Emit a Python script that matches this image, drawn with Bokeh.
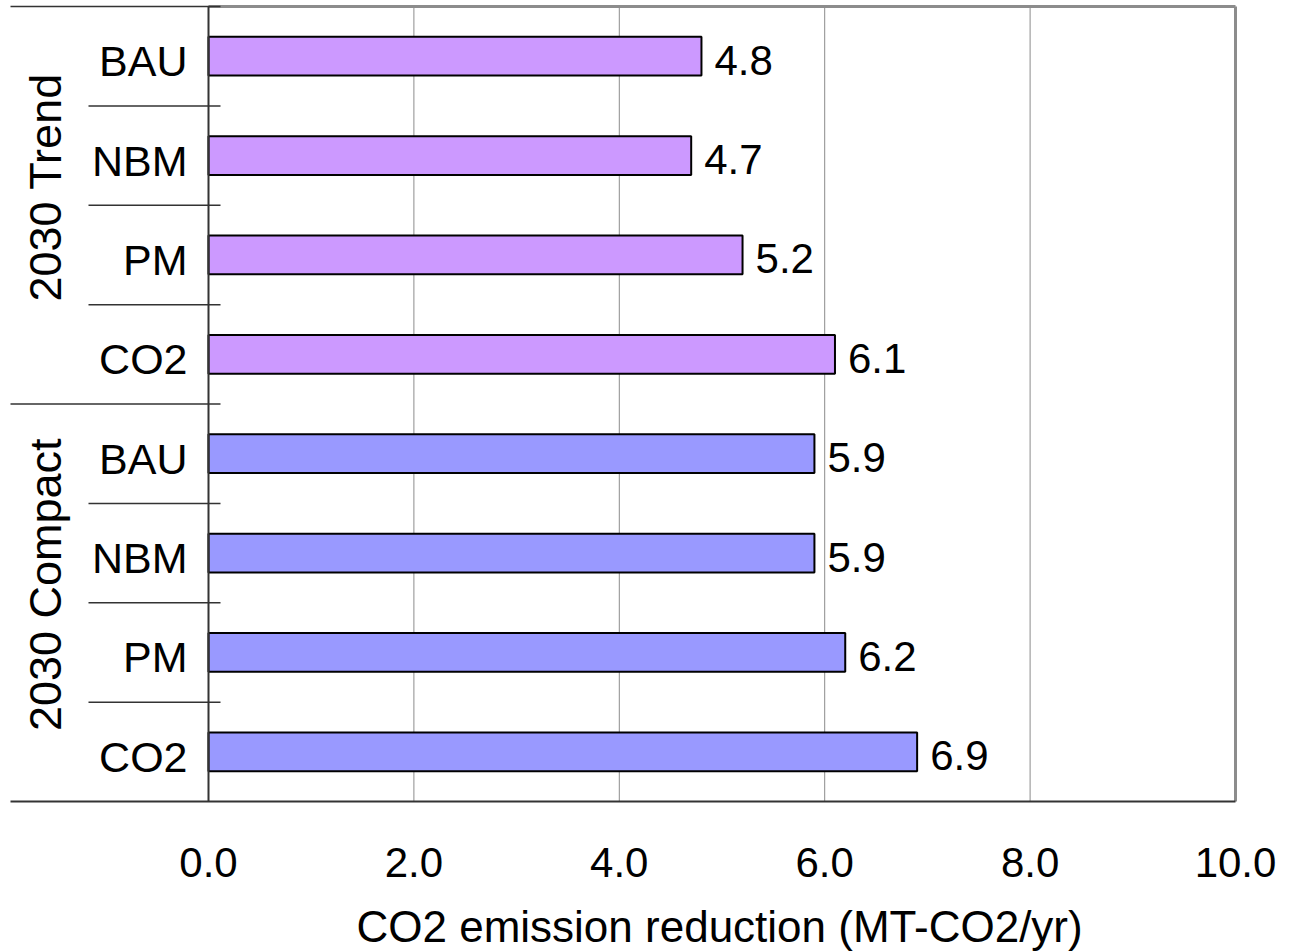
import math
from bokeh.plotting import figure
from bokeh.models import Range1d, FixedTicker, ColumnDataSource, Title
from bokeh.core.properties import value
from bokeh.embed import file_html
from bokeh.resources import INLINE

# --- data -----------------------------------------------------------------
groups = ["2030 Trend", "2030 Compact"]
scenarios = ["BAU", "NBM", "PM", "CO2"]
trend_values = [4.8, 4.7, 5.2, 6.1]
compact_values = [5.9, 5.9, 6.2, 6.9]
x_ticks = [0, 2, 4, 6, 8, 10]
x_title = "CO2 emission reduction (MT-CO2/yr)"
group_colors = ["#CC99FF", "#9999FF"]

# --- layout constants (pixels) --------------------------------------------
W = 1291
X0_PX = 208            # where x = 0 sits
UNIT_PX = 102.7        # pixels per x unit
ROW_PX = 99.375        # pixels per category row
TOP_PAD = 6
BOT_PAD = 3
FONT = "Liberation Sans"


def px(n):
    """pixel length -> x data units"""
    return n / UNIT_PX


n_rows = len(groups) * len(scenarios)
rows = list(range(n_rows))
labels = scenarios * len(groups)
vals = trend_values + compact_values
colors = [group_colors[0]] * len(trend_values) + [group_colors[1]] * len(compact_values)

src = ColumnDataSource(dict(
    y=rows, v=vals, name=labels, color=colors,
    vtxt=[f"{v:.1f}" for v in vals],
))

p = figure(
    frame_width=W, frame_height=int(ROW_PX * n_rows + TOP_PAD + BOT_PAD),
    x_range=Range1d(-px(X0_PX), px(W - X0_PX)),
    y_range=Range1d(start=n_rows - 0.5 + BOT_PAD / ROW_PX,
                    end=-0.5 - TOP_PAD / ROW_PX),
    y_axis_location=None,
    output_backend="svg", toolbar_location=None,
    min_border=0, background_fill_color="white", border_fill_color="white",
)
p.outline_line_color = None
p.xgrid.visible = False
p.ygrid.visible = False

# vertical gridlines
grid_x = [t for t in x_ticks if 0 < t < max(x_ticks)]
p.segment(x0=grid_x, x1=grid_x, y0=[-0.5] * len(grid_x), y1=[n_rows - 0.5] * len(grid_x),
          line_color="#8c8c8c", line_width=1)

# bars
p.hbar(y="y", left=0, right="v", height=0.39, source=src,
       fill_color="color", line_color="black", line_width=2)

# value labels
p.text(x="v", y="y", text="vtxt", source=src, x_offset=13, y_offset=4,
       text_align="left", text_baseline="middle",
       text_font=value(FONT), text_font_size="42px", text_color="black")

# category labels
p.text(x=0, y="y", text="name", source=src, x_offset=-21, y_offset=5,
       text_align="right", text_baseline="middle",
       text_font=value(FONT), text_font_size="43px", text_color="black")

# group labels (rotated)
per = len(scenarios)
g_y = [i * per + (per - 1) / 2 for i in range(len(groups))]
p.text(x=[-px(X0_PX - 45)] * len(groups), y=g_y, text=groups, y_offset=-18,
       angle=math.pi / 2, text_align="center", text_baseline="middle",
       text_font=value(FONT), text_font_size="45px", text_color="black")

# frame: right and top borders in grey
xmax = max(x_ticks)
p.segment(x0=[0], x1=[xmax], y0=[-0.5], y1=[-0.5], line_color="#8c8c8c", line_width=3)
p.segment(x0=[xmax], x1=[xmax], y0=[-0.5], y1=[n_rows - 0.5], line_color="#8c8c8c", line_width=3)

# left axis line
p.segment(x0=[0], x1=[0], y0=[-0.5], y1=[n_rows - 0.5], line_color="#333333", line_width=2)

# bottom line
p.segment(x0=[-px(X0_PX - 10)], x1=[xmax], y0=[n_rows - 0.5], y1=[n_rows - 0.5],
          line_color="#333333", line_width=2)

# group separators (long) and row separators (short)
g_sep = [i * per - 0.5 for i in range(len(groups))]
p.segment(x0=[-px(X0_PX - 10)] * len(g_sep), x1=[px(12)] * len(g_sep), y0=g_sep, y1=g_sep,
          line_color="#333333", line_width=1.5)
r_sep = [r + 0.5 for r in rows if (r + 1) % per != 0]
p.segment(x0=[-px(X0_PX - 88)] * len(r_sep), x1=[px(12)] * len(r_sep), y0=r_sep, y1=r_sep,
          line_color="#333333", line_width=1.5)

# x axis
ax = p.xaxis[0]
ax.ticker = FixedTicker(ticks=x_ticks)
ax.major_label_overrides = {t: f"{t:.1f}" for t in x_ticks}
ax.axis_line_color = None
ax.major_tick_line_color = None
ax.minor_tick_line_color = None
ax.major_tick_out = 0
ax.major_tick_in = 0
ax.major_label_standoff = 43
ax.major_label_text_font = FONT
ax.major_label_text_font_size = "42px"
ax.major_label_text_color = "black"

# x-axis title, centred under the 0..10 span
title_px = 44
title_w = 731
title_left = X0_PX + (xmax * UNIT_PX) / 2 - title_w / 2
p.add_layout(Title(text=x_title, align="left", offset=title_left, standoff=40,
                   text_font=FONT, text_font_size=f"{title_px}px",
                   text_font_style="normal", text_color="black"), "below")

open("out.html", "w").write(file_html(p, INLINE))
